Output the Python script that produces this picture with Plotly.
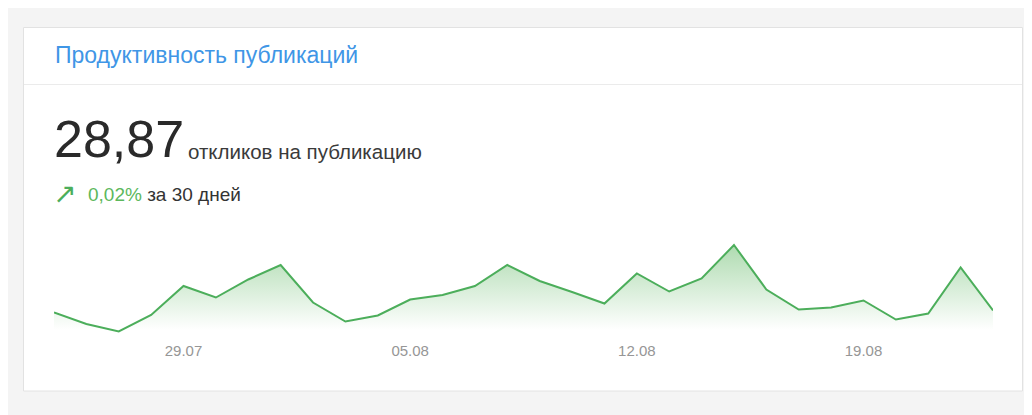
import plotly.graph_objects as go

# ---- data ----
dates = ["2019-07-25", "2019-07-26", "2019-07-27", "2019-07-28", "2019-07-29", "2019-07-30",
         "2019-07-31", "2019-08-01", "2019-08-02", "2019-08-03", "2019-08-04", "2019-08-05",
         "2019-08-06", "2019-08-07", "2019-08-08", "2019-08-09", "2019-08-10", "2019-08-11",
         "2019-08-12", "2019-08-13", "2019-08-14", "2019-08-15", "2019-08-16", "2019-08-17",
         "2019-08-18", "2019-08-19", "2019-08-20", "2019-08-21", "2019-08-22", "2019-08-23"]
values = [27.5, 25.2, 23.7, 27.0, 32.8, 30.5, 34.1, 37.0, 29.5, 25.7, 26.9, 30.1, 31.0, 32.8, 37.0,
          33.8, 31.6, 29.3, 35.3, 31.7, 34.3, 41.0, 32.1, 28.1, 28.5, 29.9, 26.1, 27.3, 36.5, 27.9]
tick_vals = ["2019-07-29", "2019-08-05", "2019-08-12", "2019-08-19"]
tick_text = ["29.07", "05.08", "12.08", "19.08"]

title_text = "Продуктивность публикаций"
big_value = "28,87"
big_unit = "откликов на публикацию"
change_value = "0,02%"
change_period = "за 30 дней"

# ---- layout geometry ----
# the page places the figure 8px in from the top-left corner
OFF = 8
W, H = 1032 - OFF, 415 - OFF
ML, MR, MT, MB = 54 - OFF, 39, 230 - OFF, 75
PW, PH = W - ML - MR, H - MT - MB


def px(x):
    return (x - OFF - ML) / PW


def py(y):
    return (H - MB - (y - OFF)) / PH


GREEN = "#4cae5b"

fig = go.Figure()
fig.add_trace(go.Scatter(
    x=dates, y=values, mode="lines",
    line=dict(color=GREEN, width=2),
    fill="tozeroy",
    fillgradient=dict(type="vertical", start=24, stop=max(values),
                      colorscale=[[0, "rgba(76,175,80,0)"], [1, "rgba(76,175,80,0.45)"]]),
    hoverinfo="skip", showlegend=False,
))

shapes = [
    dict(type="rect", xref="paper", yref="paper", x0=px(6), x1=px(1034), y0=py(417), y1=py(7),
         fillcolor="#f4f4f4", line=dict(width=0), layer="below"),
    dict(type="rect", xref="paper", yref="paper", x0=px(23.5), x1=px(1022.5), y0=py(391), y1=py(27.5),
         fillcolor="#ffffff", line=dict(color="#e2e2e2", width=1), layer="below"),
    dict(type="line", xref="paper", yref="paper", x0=px(24), x1=px(1022), y0=py(84.5), y1=py(84.5),
         line=dict(color="#ebebeb", width=1), layer="below"),
]

FONT = "Liberation Sans, Arial, sans-serif"
annotations = [
    dict(text=title_text, x=px(53), y=py(55), xanchor="left", yanchor="middle",
         font=dict(family=FONT, size=23, color="#3f96e6")),
    dict(text=big_value, x=px(52), y=py(139), xanchor="left", yanchor="middle",
         font=dict(family=FONT, size=52, color="#2a2a2a")),
    dict(text=big_unit, x=px(186), y=py(151.5), xanchor="left", yanchor="middle",
         font=dict(family=FONT, size=20.5, color="#3a3a3a")),
    dict(text="↗", x=px(51), y=py(193), xanchor="left", yanchor="middle",
         font=dict(family="DejaVu Sans", size=28, color=GREEN)),
    dict(text=f"<span style='color:#5cb85c'>{change_value}</span> {change_period}",
         x=px(86), y=py(194), xanchor="left", yanchor="middle",
         font=dict(family=FONT, size=19, color="#333333")),
]
for a in annotations:
    a.update(xref="paper", yref="paper", showarrow=False)

fig.update_layout(
    width=W, height=H,
    margin=dict(l=ML, r=MR, t=MT, b=MB),
    paper_bgcolor="#ffffff", plot_bgcolor="rgba(0,0,0,0)",
    shapes=shapes, annotations=annotations,
    xaxis=dict(range=[dates[0], dates[-1]], tickvals=tick_vals, ticktext=tick_text,
               showgrid=False, zeroline=False, showline=False, ticks="",
               tickfont=dict(family=FONT, size=15, color="#969696"),
               fixedrange=True),
    yaxis=dict(range=[22, 44], visible=False, fixedrange=True),
    showlegend=False,
)

fig.write_html("out.html")
